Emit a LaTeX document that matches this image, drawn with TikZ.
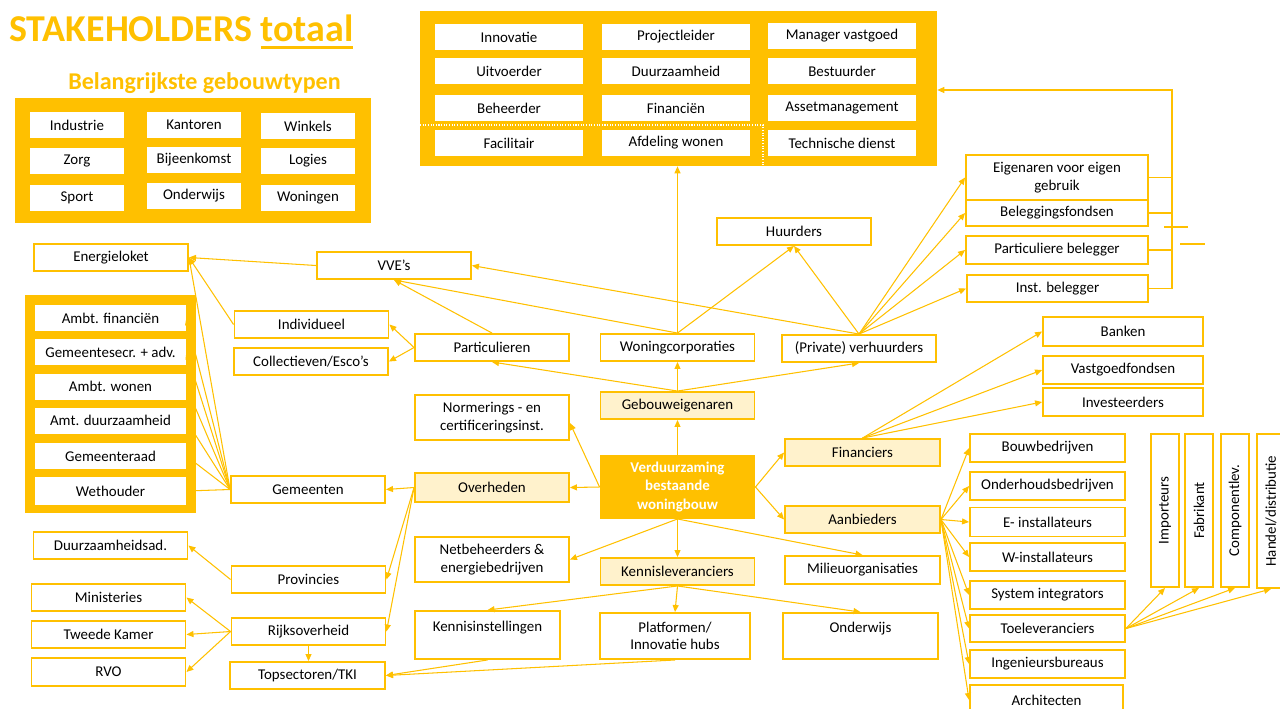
\documentclass[tikz,border=0pt]{standalone}
\usepackage{fontspec}
\setmainfont{Carlito}
\usetikzlibrary{arrows.meta,positioning,calc}
\definecolor{sgold}{RGB}{255,192,0}
\definecolor{slight}{RGB}{255,242,204}
\newsavebox{\ttlbox}
\newcommand{\ttlul}[1]{\sbox{\ttlbox}{#1}\rlap{\rule[-4.3pt]{\wd\ttlbox}{1.7pt}}\usebox{\ttlbox}}
\tikzset{sbox/.style={draw=sgold,line width=1.1pt,fill=white,inner sep=1pt,align=center,
    font=\fontsize{8.5}{10}\selectfont,minimum width=3.08cm,minimum height=0.54cm},
  lbox/.style={sbox,fill=slight},
  core/.style={sbox,fill=sgold,text=white,font=\fontsize{8.5}{10.4}\selectfont\bfseries},
  cell/.style={fill=white,inner sep=1pt,align=center,font=\fontsize{8.5}{10}\selectfont,minimum height=0.52cm},
  grp/.style={fill=sgold,inner sep=0pt},
  flow/.style={-{Triangle[length=1.4mm,width=1.2mm]},line width=0.6pt,sgold},
  link/.style={line width=0.6pt,sgold}}

\begin{document}
\begin{tikzpicture}[x=0.02cm,y=-0.02cm]
\useasboundingbox (0,0) rectangle (1280,708);
% titles
\node[anchor=base west,inner sep=0pt,text=sgold,font=\fontsize{21.6}{24}\selectfont\bfseries] (ttl) at (9,41) {STAKEHOLDERS \ttlul{totaal}};
\node[anchor=base,inner sep=0pt,text=sgold,font=\fontsize{13.7}{16}\selectfont\bfseries] (sttl) at (204.5,89) {Belangrijkste gebouwtypen};
% gebouwtypen
\node[grp,minimum width=7.12cm,minimum height=2.5cm] (typgrp) at (193,160.5) {};
\node[cell,minimum width=1.88cm] (ind) at (77,125) {Industrie};
\node[cell,minimum width=1.88cm] (kan) at (194,125) {Kantoren};
\node[cell,minimum width=1.88cm] (win) at (308,126) {Winkels};
\node[cell,minimum width=1.88cm] (zorg) at (77,161) {Zorg};
\node[cell,minimum width=1.88cm] (bij) at (194,160) {Bijeenkomst};
\node[cell,minimum width=1.88cm] (log) at (308,161) {Logies};
\node[cell,minimum width=1.88cm] (spo) at (77,198) {Sport};
\node[cell,minimum width=1.88cm] (ondw) at (194,196) {Onderwijs};
\node[cell,minimum width=1.88cm] (won) at (308,198) {Woningen};
% organisatie gebouweigenaar
\node[grp,minimum width=10.34cm,minimum height=3.1cm] (topgrp) at (678.5,88.5) {};
\node[cell,minimum width=2.96cm] (innov) at (509,37) {Innovatie};
\node[cell,minimum width=2.96cm] (projl) at (676,37) {Projectleider};
\node[cell,minimum width=2.96cm] (manv) at (842,36) {Manager vastgoed};
\node[cell,minimum width=2.96cm] (uitv) at (509,71) {Uitvoerder};
\node[cell,minimum width=2.96cm] (duurz) at (676,71) {Duurzaamheid};
\node[cell,minimum width=2.96cm] (best) at (842,71) {Bestuurder};
\node[cell,minimum width=2.96cm] (beh) at (509,108) {Beheerder};
\node[cell,minimum width=2.96cm] (fin) at (676,108) {Financiën};
\node[cell,minimum width=2.96cm] (asset) at (842,108) {Assetmanagement};
\node[cell,minimum width=2.96cm] (facil) at (509,143) {Facilitair};
\node[cell,minimum width=2.96cm] (afdw) at (676,143) {Afdeling wonen};
\node[cell,minimum width=2.96cm] (techd) at (842,143) {Technische dienst};
\draw[white,line width=1.2pt,dash pattern=on 0.6pt off 0.9pt] (420,125) -- (763,125) -- (763,166);
% gemeente
\node[grp,minimum width=3.42cm,minimum height=4.36cm] (gemgrp) at (110.5,404) {};
\node[cell,minimum width=3.02cm] (ambf) at (110.5,318) {Ambt. financiën};
\node[cell,minimum width=3.02cm] (gsecr) at (110.5,352) {Gemeentesecr. + adv.};
\node[cell,minimum width=3.02cm] (ambw) at (110.5,386.5) {Ambt. wonen};
\node[cell,minimum width=3.02cm] (amtd) at (110.5,420.5) {Amt. duurzaamheid};
\node[cell,minimum width=3.02cm] (graad) at (110.5,456) {Gemeenteraad};
\node[cell,minimum width=3.02cm,minimum height=0.56cm] (weth) at (110.5,491) {Wethouder};
% stakeholders
\node[sbox] (eloket) at (111,257.5) {Energieloket};
\node[sbox] (vve) at (394,265.5) {VVE’s};
\node[sbox] (huur) at (794,231.5) {Huurders};
\node[sbox] (indiv) at (311.5,324.5) {Individueel};
\node[sbox] (coll) at (311,361.5) {Collectieven/Esco’s};
\node[sbox] (part) at (492,347.5) {Particulieren};
\node[sbox] (wcorp) at (677.5,347.5) {Woningcorporaties};
\node[sbox] (verh) at (859,348.5) {(Private) verhuurders};
\node[lbox] (geb) at (677.5,405.5) {Gebouweigenaren};
\node[sbox,minimum height=0.9cm] (norm) at (492,417.5) {Normerings - en\\certificeringsinst.};
\node[lbox,minimum height=0.58cm] (overh) at (492,487.5) {Overheden};
\node[core,minimum height=1.24cm] (verd) at (677.5,487) {Verduurzaming\\bestaande\\woningbouw};
\node[lbox,minimum width=3.1cm] (finan) at (862.5,452.5) {Financiers};
\node[lbox,minimum width=3.1cm] (aanb) at (862.5,519.5) {Aanbieders};
\node[sbox,minimum width=3.2cm,minimum height=0.58cm] (bank) at (1123,331.5) {Banken};
\node[sbox,minimum width=3.2cm,minimum height=0.56cm] (vgf) at (1123,370) {Vastgoedfondsen};
\node[sbox,minimum width=3.2cm,minimum height=0.56cm] (inv) at (1123,402) {Investeerders};
\node[sbox,minimum width=3.64cm,minimum height=0.9cm] (eig) at (1057,177.5) {Eigenaren voor eigen\\gebruik};
\node[sbox,minimum width=3.64cm,minimum height=0.52cm] (belf) at (1057,213) {Beleggingsfondsen};
\node[sbox,minimum width=3.64cm,minimum height=0.56cm] (partb) at (1057,250) {Particuliere belegger};
\node[sbox,minimum width=3.62cm] (instb) at (1057.5,288.5) {Inst. belegger};
\node[sbox,minimum height=0.9cm] (netb) at (492,559.5) {Netbeheerders \&\\energiebedrijven};
\node[lbox] (kenl) at (677.5,571.5) {Kennisleveranciers};
\node[sbox,minimum width=3.1cm,minimum height=0.56cm] (milieu) at (862.5,570) {Milieuorganisaties};
\node[sbox,minimum width=2.9cm,minimum height=0.96cm] (kinst) at (487.5,635) {Kennisinstellingen\\~};
\node[sbox,minimum width=3cm,minimum height=0.92cm] (platf) at (675,636) {Platformen/\\Innovatie hubs};
\node[sbox,minimum width=3.1cm,minimum height=0.92cm] (onderw) at (860.5,636) {Onderwijs\\~};
% overheden
\node[sbox] (gem) at (308,489.5) {Gemeenten};
\node[sbox] (prov) at (308.5,579.5) {Provincies};
\node[sbox] (rijk) at (308.5,631.5) {Rijksoverheid};
\node[sbox,minimum width=3.1cm] (tops) at (307.5,675.5) {Topsectoren/TKI};
\node[sbox] (dadv) at (110.5,545.5) {Duurzaamheidsad.};
\node[sbox] (mini) at (108.5,597.5) {Ministeries};
\node[sbox] (tweek) at (108.5,634.5) {Tweede Kamer};
\node[sbox,minimum height=0.56cm] (rvo) at (108.5,672) {RVO};
% aanbieders
\node[sbox,minimum width=3.1cm,minimum height=0.56cm] (bouw) at (1047.5,448) {Bouwbedrijven};
\node[sbox,minimum width=3.1cm,minimum height=0.56cm] (onderh) at (1047.5,486) {Onderhoudsbedrijven};
\node[sbox,minimum width=3.1cm,minimum height=0.58cm] (einst) at (1047.5,522) {E- installateurs};
\node[sbox,minimum width=3.1cm,minimum height=0.56cm] (winst) at (1047.5,557) {W-installateurs};
\node[sbox,minimum width=3.1cm,minimum height=0.56cm] (sysi) at (1047.5,595) {System integrators};
\node[sbox,minimum width=3.1cm,minimum height=0.54cm] (toel) at (1047.5,628.5) {Toeleveranciers};
\node[sbox,minimum width=3.1cm,minimum height=0.56cm] (ingb) at (1047.5,664) {Ingenieursbureaus};
\node[sbox,minimum width=3.06cm,minimum height=0.6cm] (arch) at (1046.5,700) {Architecten};
\node[sbox,rotate=90,minimum width=3.06cm,minimum height=0.56cm] (imp) at (1165,510.5) {Importeurs};
\node[sbox,rotate=90,minimum width=3.06cm,minimum height=0.56cm] (fabr) at (1199,510.5) {Fabrikant};
\node[sbox,rotate=90,minimum width=3.06cm,minimum height=0.56cm] (compl) at (1235,510.5) {Componentlev.};
\node[sbox,rotate=90,minimum width=3.08cm,minimum height=0.56cm] (handel) at (1271,511) {Handel/distributie};
% connectors from the core
\draw[flow] (verd) -- (geb);
\draw[flow] (verd.west) -- (overh.east);
\draw[flow] (verd.west) -- ($(norm.south east)+(0,-18)$);
\draw[flow] (verd.east) -- (finan.west);
\draw[flow] (verd.east) -- (aanb.west);
\draw[flow] (verd) -- (kenl);
\draw[flow] (verd.south) -- (netb.east);
\draw[flow] (verd.south) -- (milieu.north);
% gebouweigenaren
\draw[flow] (geb.north) -- (part.south);
\draw[flow] (geb) -- (wcorp);
\draw[flow] (geb.north) -- (verh.south);
\draw[flow] (part.north) -- (vve.south);
\draw[flow] (part.west) -- (indiv.east);
\draw[flow] (part.west) -- (coll.east);
\draw[flow] (wcorp.north) -- (vve.south);
\draw[flow] (wcorp.north) -- (huur.south);
\draw[flow] (wcorp.north) -- (wcorp.north |- topgrp.south);
\draw[flow] (verh.north) -- (vve.east);
\draw[flow] (verh.north) -- (huur.south);
\draw[flow] (verh.north) -- (eig.west);
\draw[flow] (verh.north) -- (belf.west);
\draw[flow] (verh.north) -- (partb.west);
\draw[flow] (verh.north) -- (instb.west);
\coordinate (bus) at (1172,90);
\draw[flow] (instb.east) -| (bus) -- (topgrp.east |- bus);
\draw[link] (eig.east) -- (eig.east -| bus);
\draw[link] (belf.east) -- (belf.east -| bus);
\draw[link] (partb.east) -- (partb.east -| bus);
\draw[sgold,line width=1.1pt] (1164,227) -- (1188,227);
\draw[sgold,line width=1.1pt] (1180,244) -- (1205,244);
% energieloket en gemeente
\draw[flow] (vve.west) -- (eloket.east);
\draw[flow] (indiv.west) -- (eloket.east);
\draw[flow] (gem.west) -- (eloket.east);
\draw[flow] (gem.west) -- (ambf.east);
\draw[flow] (gem.west) -- (gsecr.east);
\draw[flow] (gem.west) -- (ambw.east);
\draw[flow] (gem.west) -- (amtd.east);
\draw[flow] (gem.west) -- (graad.east);
\draw[flow] (gem.west) -- (weth.east);
% overheden
\draw[flow] (overh.west) -- (gem.east);
\draw[flow] (overh.west) -- (prov.east);
\draw[flow] (overh.west) -- (rijk.east);
\draw[flow] (prov.west) -- (dadv.east);
\draw[flow] (rijk.west) -- (mini.east);
\draw[flow] (rijk.west) -- (tweek.east);
\draw[flow] (rijk.west) -- (rvo.east);
\draw[flow] (rijk.south) -- (rijk.south |- tops.north);
% kennis
\draw[flow] (kenl.south) -- (kinst.north);
\draw[flow] (kenl.south) -- (platf.north);
\draw[flow] (kenl.south) -- (onderw.north);
\draw[flow] (kinst.south) -- (tops.east);
\draw[flow] (platf.south) -- (tops.east);
% financiers en aanbieders
\draw[flow] (finan.north) -- (bank.west);
\draw[flow] (finan.north) -- (vgf.west);
\draw[flow] (finan.north) -- (inv.west);
\draw[flow] (aanb.east) -- (bouw.west);
\draw[flow] (aanb.east) -- (onderh.west);
\draw[flow] (aanb.east) -- (einst.west);
\draw[flow] (aanb.east) -- (winst.west);
\draw[flow] (aanb.east) -- (sysi.west);
\draw[flow] (aanb.east) -- (toel.west);
\draw[flow] (aanb.east) -- (ingb.west);
\draw[flow] (aanb.east) -- (arch.west);
\draw[flow] (toel.east) -- (imp.west);
\draw[flow] (toel.east) -- (fabr.west);
\draw[flow] (toel.east) -- (compl.west);
\draw[flow] (toel.east) -- (handel.west);
\end{tikzpicture}
\end{document}
